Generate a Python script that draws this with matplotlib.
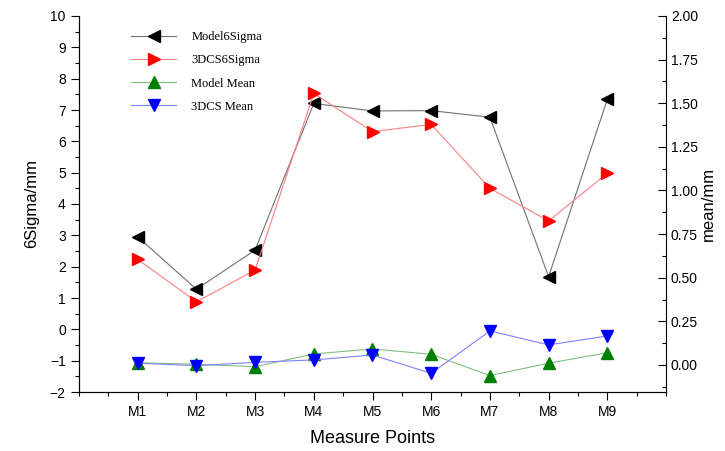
import matplotlib
matplotlib.use("Agg")
import matplotlib.pyplot as plt
from matplotlib.ticker import MultipleLocator, FixedLocator

categories = ["M1", "M2", "M3", "M4", "M5", "M6", "M7", "M8", "M9"]
model6sigma = [2.95, 1.28, 2.53, 7.21, 6.97, 6.98, 6.77, 1.68, 7.34]
dcs6sigma = [2.23, 0.88, 1.89, 7.53, 6.31, 6.54, 4.50, 3.46, 4.98]
model_mean = [0.013, 0.004, -0.010, 0.063, 0.092, 0.061, -0.061, 0.010, 0.070]
dcs_mean = [0.010, -0.004, 0.015, 0.029, 0.057, -0.048, 0.195, 0.115, 0.166]

plt.rcParams['font.family'] = ['Liberation Sans', 'DejaVu Sans']

fig = plt.figure(figsize=(7.25, 4.51), dpi=100)
ax = fig.add_axes([79/725, 1-392/451, (666-79)/725, (392-16)/451])
ax2 = ax.twinx()

x = list(range(1, len(categories)+1))
l1, = ax.plot(x, model6sigma, color='#707070', lw=0.8, marker='<', ms=9,
              mfc='black', mec='black', label='Model6Sigma')
l2, = ax.plot(x, dcs6sigma, color='#ff8080', lw=0.8, marker='>', ms=9,
              mfc='red', mec='red', label='3DCS6Sigma')
l3, = ax2.plot(x, model_mean, color='#80c080', lw=0.8, marker='^', ms=9,
               mfc='green', mec='green', label='Model Mean')
l4, = ax2.plot(x, dcs_mean, color='#8080ff', lw=0.8, marker='v', ms=9,
               mfc='blue', mec='blue', label='3DCS Mean')

ax.set_xlim(0, 10)
ax.set_ylim(-2, 10)
ax2.set_ylim(-0.155, 2.0)

ax.xaxis.set_major_locator(FixedLocator(x))
ax.set_xticklabels(categories, fontsize=10)
ax.xaxis.set_minor_locator(MultipleLocator(0.5))
ax.yaxis.set_major_locator(MultipleLocator(1))
ax.yaxis.set_minor_locator(MultipleLocator(0.5))
ax2.yaxis.set_major_locator(MultipleLocator(0.25))
ax2.yaxis.set_minor_locator(MultipleLocator(0.125))
ax2.yaxis.set_major_formatter(matplotlib.ticker.FormatStrFormatter('%.2f'))

ax.tick_params(axis='both', which='major', direction='out', length=6, width=0.8, labelsize=10)
ax.tick_params(axis='both', which='minor', direction='out', length=3, width=0.8)
ax2.tick_params(axis='y', which='major', direction='in', length=6, width=0.8, labelsize=10)
ax2.tick_params(axis='y', which='minor', direction='in', length=3, width=0.8)

for a in (ax, ax2):
    a.spines['top'].set_visible(False)
ax.spines['right'].set_visible(False)

ax.set_ylabel('6Sigma/mm', fontsize=12, labelpad=8)
ax2.set_ylabel('mean/mm', fontsize=12, labelpad=2)
ax.set_xlabel('Measure Points', fontsize=13, labelpad=8)

leg = ax2.legend(handles=[l1, l2, l3, l4], loc='upper left',
                 bbox_to_anchor=(0.07, 0.99), frameon=False, numpoints=1,
                 prop={'family': 'Liberation Serif', 'size': 9},
                 handlelength=3.6, labelspacing=0.9, handletextpad=1.2)

fig.savefig('out.png', dpi=100)
